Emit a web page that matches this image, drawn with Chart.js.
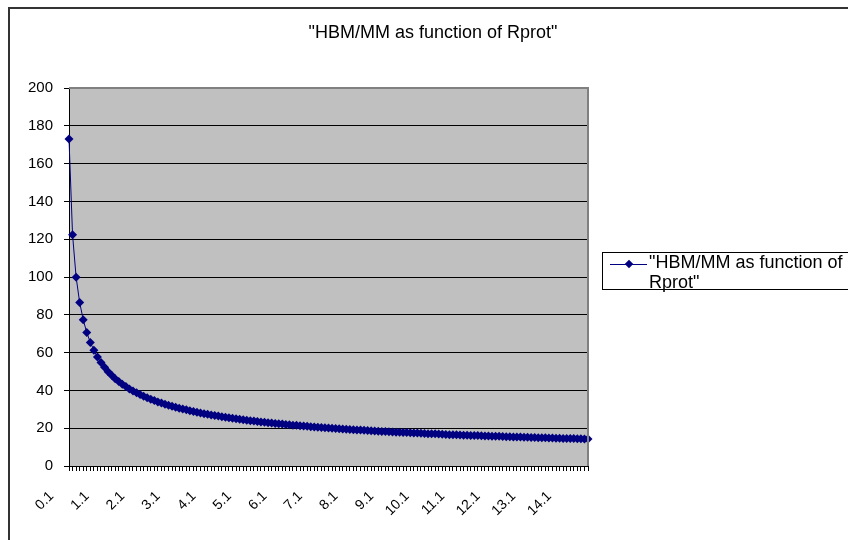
<!DOCTYPE html>
<html lang="en">
<head>
    <meta charset="UTF-8">
    <title>HBM/MM as function of Rprot</title>
    <script src="https://cdn.jsdelivr.net/npm/chart.js"></script>
    <style>
        body {
            margin: 0;
            background: #fff;
            font-family: 'Liberation Sans', Arial, sans-serif;
        }
        .wrap {
            position: relative;
            width: 848px;
            height: 540px;
            overflow: hidden;
        }
        .frame {
            position: absolute;
            left: 8px;
            top: 7px;
            width: 900px;
            height: 600px;
            border-left: 2px solid #333;
            border-top: 2px solid #333;
        }
        canvas {
            position: absolute;
            left: 0;
            top: 0;
        }
        .title {
            position: absolute;
            left: 18px;
            width: 830px;
            top: 22px;
            text-align: center;
            font-size: 18px;
            line-height: 20px;
            color: #000;
        }
        .legend {
            position: absolute;
            left: 602px;
            top: 252px;
            width: 300px;
            height: 36px;
            border: 1px solid #000;
            font-size: 18px;
            line-height: 20px;
            color: #000;
        }
        .legend .txt {
            position: absolute;
            left: 46px;
            top: -1px;
            white-space: nowrap;
        }
        .legend .ln {
            position: absolute;
            left: 7px;
            top: 11px;
            width: 37px;
            height: 1px;
            background: #000080;
        }
        .legend .dm {
            position: absolute;
            left: 23px;
            top: 8px;
            width: 6px;
            height: 6px;
            background: #000080;
            transform: rotate(45deg);
        }
    </style>
</head>
<body>
<div class="wrap">
    <div class="frame"></div>
    <canvas id="chart" width="848" height="540"></canvas>
    <div class="title">"HBM/MM as function of Rprot"</div>
    <div class="legend">
        <div class="ln"></div>
        <div class="dm"></div>
        <div class="txt">"HBM/MM as function of<br>Rprot"</div>
    </div>
</div>

<script>
    var categories = [
        '0.1','0.2','0.3','0.4','0.5','0.6','0.7','0.8','0.9','1.0',
        '1.1','1.2','1.3','1.4','1.5','1.6','1.7','1.8','1.9','2.0',
        '2.1','2.2','2.3','2.4','2.5','2.6','2.7','2.8','2.9','3.0',
        '3.1','3.2','3.3','3.4','3.5','3.6','3.7','3.8','3.9','4.0',
        '4.1','4.2','4.3','4.4','4.5','4.6','4.7','4.8','4.9','5.0',
        '5.1','5.2','5.3','5.4','5.5','5.6','5.7','5.8','5.9','6.0',
        '6.1','6.2','6.3','6.4','6.5','6.6','6.7','6.8','6.9','7.0',
        '7.1','7.2','7.3','7.4','7.5','7.6','7.7','7.8','7.9','8.0',
        '8.1','8.2','8.3','8.4','8.5','8.6','8.7','8.8','8.9','9.0',
        '9.1','9.2','9.3','9.4','9.5','9.6','9.7','9.8','9.9','10.0',
        '10.1','10.2','10.3','10.4','10.5','10.6','10.7','10.8','10.9','11.0',
        '11.1','11.2','11.3','11.4','11.5','11.6','11.7','11.8','11.9','12.0',
        '12.1','12.2','12.3','12.4','12.5','12.6','12.7','12.8','12.9','13.0',
        '13.1','13.2','13.3','13.4','13.5','13.6','13.7','13.8','13.9','14.0',
        '14.1','14.2','14.3','14.4','14.5','14.6','14.7'
    ];

    var hbmValues = [
        173.0, 122.3, 99.9, 86.5, 77.4, 70.6, 65.4, 61.2, 57.7, 54.7,
        52.2, 49.9, 48.0, 46.2, 44.7, 43.3, 42.0, 40.8, 39.7, 38.7,
        37.8, 36.9, 36.1, 35.3, 34.6, 33.9, 33.3, 32.7, 32.1, 31.6,
        31.1, 30.6, 30.1, 29.7, 29.2, 28.8, 28.4, 28.1, 27.7, 27.4,
        27.0, 26.7, 26.4, 26.1, 25.8, 25.5, 25.2, 25.0, 24.7, 24.5,
        24.2, 24.0, 23.8, 23.5, 23.3, 23.1, 22.9, 22.7, 22.5, 22.3,
        22.2, 22.0, 21.8, 21.6, 21.5, 21.3, 21.1, 21.0, 20.8, 20.7,
        20.5, 20.4, 20.2, 20.1, 20.0, 19.8, 19.7, 19.6, 19.5, 19.3,
        19.2, 19.1, 19.0, 18.9, 18.8, 18.7, 18.5, 18.4, 18.3, 18.2,
        18.1, 18.0, 17.9, 17.8, 17.7, 17.7, 17.6, 17.5, 17.4, 17.3,
        17.2, 17.1, 17.0, 17.0, 16.9, 16.8, 16.7, 16.6, 16.6, 16.5,
        16.4, 16.3, 16.3, 16.2, 16.1, 16.1, 16.0, 15.9, 15.9, 15.8,
        15.7, 15.7, 15.6, 15.5, 15.5, 15.4, 15.4, 15.3, 15.2, 15.2,
        15.1, 15.1, 15.0, 14.9, 14.9, 14.8, 14.8, 14.7, 14.7, 14.6,
        14.6, 14.5, 14.5, 14.4, 14.4, 14.3, 14.3
    ];

    var yTicks = [0, 20, 40, 60, 80, 100, 120, 140, 160, 180, 200];
    var labelEvery = 10;
    var labelFont = "14px 'Liberation Sans', Arial, sans-serif";

    // grey plot area with a grey border on top/right, like the old spreadsheet look
    var plotBackground = {
        id: 'plotBackground',
        beforeDraw: function (chart) {
            var a = chart.chartArea;
            var ctx = chart.ctx;
            ctx.save();
            ctx.fillStyle = '#c0c0c0';
            ctx.fillRect(a.left, a.top, a.right - a.left, a.bottom - a.top);
            ctx.restore();
        },
        afterDatasetsDraw: function (chart) {
            var a = chart.chartArea;
            var ctx = chart.ctx;
            ctx.save();
            ctx.strokeStyle = '#808080';
            ctx.lineWidth = 2;
            ctx.beginPath();
            ctx.moveTo(a.left, a.top);
            ctx.lineTo(a.right, a.top);
            ctx.lineTo(a.right, a.bottom);
            ctx.stroke();
            ctx.restore();
        }
    };

    // x labels at 45 degrees, hanging a bit left of their tick (Excel style)
    var slantLabels = {
        id: 'slantLabels',
        afterDraw: function (chart) {
            var xs = chart.scales.x;
            var ctx = chart.ctx;
            ctx.save();
            ctx.font = labelFont;
            ctx.fillStyle = '#000';
            ctx.textAlign = 'right';
            ctx.textBaseline = 'middle';
            for (var i = 0; i < categories.length; i += labelEvery) {
                var x = xs.getPixelForTick(i);
                ctx.save();
                ctx.translate(x - 17.5, xs.top + 28);
                ctx.rotate(-Math.PI / 4);
                ctx.fillText(categories[i], 0, 0);
                ctx.restore();
            }
            ctx.restore();
        }
    };

    var ctx = document.getElementById('chart').getContext('2d');
    var chart = new Chart(ctx, {
        type: 'line',
        data: {
            labels: categories,
            datasets: [{
                label: '"HBM/MM as function of Rprot"',
                data: hbmValues,
                borderColor: '#000080',
                backgroundColor: '#000080',
                borderWidth: 1,
                pointStyle: 'rectRot',
                pointRadius: 4.5,
                pointBorderWidth: 0,
                tension: 0,
                clip: false
            }]
        },
        options: {
            responsive: false,
            animation: false,
            layout: {
                padding: { left: 0, right: 260, top: 88, bottom: 0 }
            },
            plugins: {
                legend: { display: false },
                title: { display: false },
                tooltip: { enabled: false }
            },
            scales: {
                x: {
                    type: 'category',
                    offset: false,
                    afterFit: function (s) { s.height = 74; },
                    grid: {
                        drawOnChartArea: false,
                        drawTicks: true,
                        tickLength: 5,
                        color: '#000'
                    },
                    border: { color: '#000', width: 1 },
                    ticks: {
                        display: false,
                        autoSkip: false
                    }
                },
                y: {
                    min: yTicks[0],
                    max: yTicks[yTicks.length - 1],
                    afterFit: function (s) { s.width = 69; },
                    afterBuildTicks: function (s) {
                        s.ticks = yTicks.map(function (v) { return { value: v }; });
                    },
                    grid: {
                        color: '#000',
                        tickLength: 5,
                        drawTicks: true
                    },
                    border: { color: '#000', width: 1 },
                    ticks: {
                        padding: 11,
                        color: '#000',
                        font: { family: "'Liberation Sans', Arial, sans-serif", size: 15 }
                    }
                }
            }
        },
        plugins: [plotBackground, slantLabels]
    });
</script>
</body>
</html>
